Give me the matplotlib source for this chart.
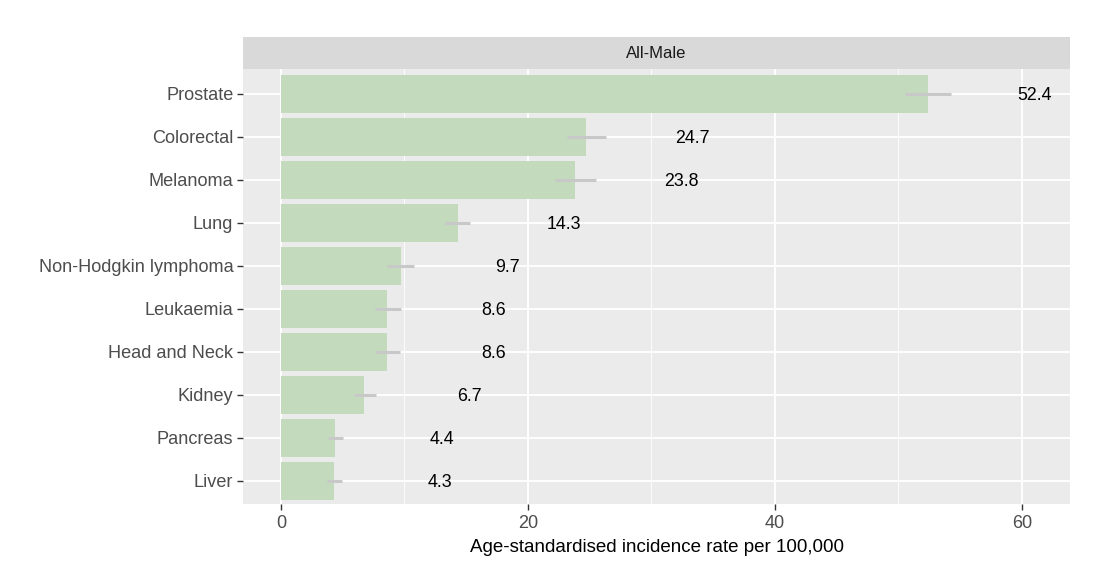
import matplotlib
matplotlib.use("Agg")
import matplotlib.pyplot as plt

plt.rcParams['font.family'] = ['Liberation Sans', 'DejaVu Sans']

categories = ["Prostate", "Colorectal", "Melanoma", "Lung", "Non-Hodgkin lymphoma",
              "Leukaemia", "Head and Neck", "Kidney", "Pancreas", "Liver"]
values = [52.4, 24.7, 23.8, 14.3, 9.7, 8.6, 8.6, 6.7, 4.4, 4.3]
ci_low = [50.5, 23.2, 22.2, 13.3, 8.6, 7.6, 7.7, 5.9, 3.8, 3.7]
ci_high = [54.3, 26.3, 25.5, 15.3, 10.8, 9.7, 9.6, 7.7, 5.0, 4.9]
value_labels = ["52.4", "24.7", "23.8", "14.3", "9.7", "8.6", "8.6", "6.7", "4.4", "4.3"]
x_ticks = [0, 20, 40, 60]
panel_title = "All-Male"
x_title = "Age-standardised incidence rate per 100,000"

W, H = 1112, 578
P_LEFT, P_RIGHT, P_TOP, P_BOTTOM = 243, 1070, 69, 504
fig = plt.figure(figsize=(W / 100, H / 100), dpi=100)
ax = fig.add_axes([P_LEFT / W, (H - P_BOTTOM) / H, (P_RIGHT - P_LEFT) / W, (P_BOTTOM - P_TOP) / H])
ax.set_facecolor('#ebebeb')

n = len(categories)
ypos = list(range(n, 0, -1))

ax.barh(ypos, values, height=0.9, color='#c3dbbc', zorder=2)
ax.hlines(ypos, ci_low, ci_high, color='#c8c8c8', linewidth=2.2, zorder=3)
for y, v, lab in zip(ypos, values, value_labels):
    ax.text(v + 8.6, y, lab, ha='center', va='center_baseline', fontsize=12.8,
            color='black', zorder=4)

ax.set_xlim(-3.08, 63.9)
ax.set_ylim(0.465, 10.58)
ax.set_xticks(x_ticks)
ax.set_xticks([10, 30, 50], minor=True)
ax.set_yticks(ypos)
ax.set_yticklabels(categories)
ax.grid(which='major', color='white', linewidth=1.3, zorder=0)
ax.grid(which='minor', axis='x', color='white', linewidth=0.6, zorder=0)
ax.set_axisbelow(True)
for s in ax.spines.values():
    s.set_visible(False)
ax.tick_params(axis='both', which='major', length=4, color='#333333', width=1.0,
               labelsize=13.1, labelcolor='#4d4d4d')
ax.tick_params(axis='x', which='minor', length=0)
ax.tick_params(axis='x', pad=4)
ax.tick_params(axis='y', pad=3)
ax.set_xlabel(x_title, fontsize=13.5, color='black', labelpad=5)

# facet strip
strip = fig.add_axes([P_LEFT / W, (H - P_TOP) / H, (P_RIGHT - P_LEFT) / W, 32 / H])
strip.set_facecolor('#d9d9d9')
strip.set_xticks([])
strip.set_yticks([])
for s in strip.spines.values():
    s.set_visible(False)
strip.text(0.5, 0.5, panel_title, ha='center', va='center', fontsize=12, color='#1a1a1a',
           transform=strip.transAxes)

fig.savefig("out.png", dpi=100, facecolor='white')
